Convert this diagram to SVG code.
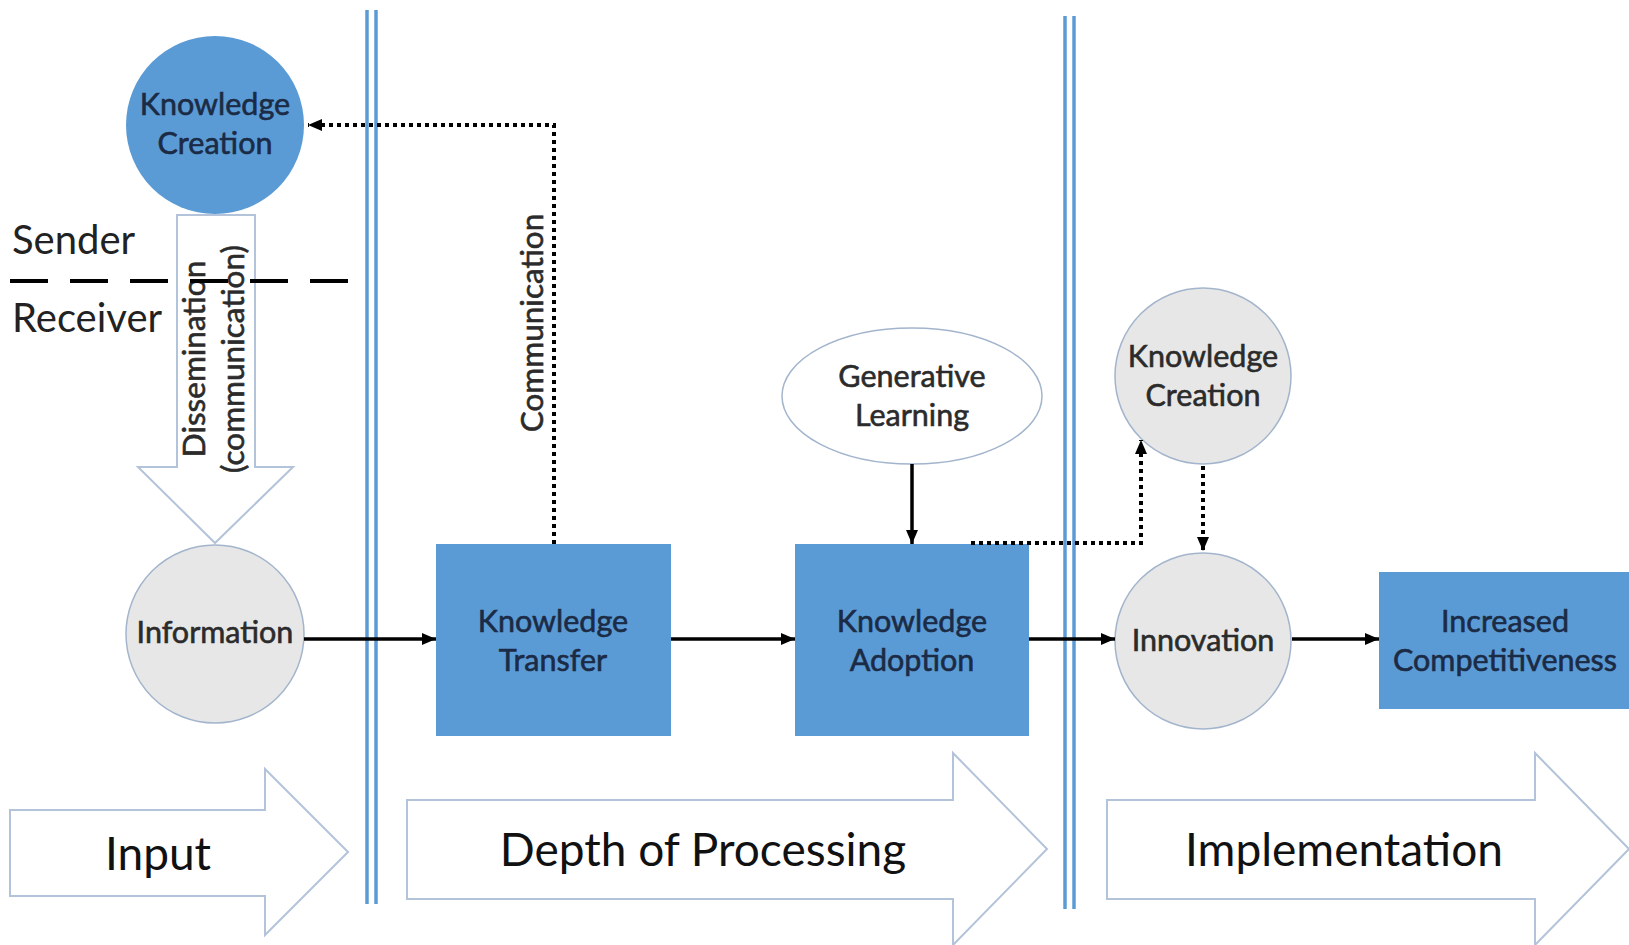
<svg xmlns="http://www.w3.org/2000/svg" width="1629" height="945" viewBox="0 0 1629 945">
<defs>
<style>
.blue{fill:#5b9bd5;stroke:none}
.gray{fill:#e7e7e7;stroke:#a3b5cc;stroke-width:1.5}
.ell{fill:#ffffff;stroke:#a3b5cc;stroke-width:1.5}
.big{fill:#ffffff;stroke:#b3c3d9;stroke-width:2}
.sep{stroke:#5b9bd5;stroke-width:3.5}
.t{font-family:Lato,"Open Sans",sans-serif;font-size:30.5px;text-anchor:middle;stroke-width:0.6px}
.rt{font-size:31.5px}
.tb{fill:#1b2b45;stroke:#1b2b45}
.tg{fill:#2b2b2b;stroke:#2b2b2b}
.lab{font-family:Lato,"Open Sans",sans-serif;font-size:46px;text-anchor:middle;fill:#111}
.sr{font-family:Lato,"Open Sans",sans-serif;font-size:40px;fill:#222}
.solid{stroke:#000;stroke-width:3.5;fill:none}
.dot{stroke:#000;stroke-width:4;fill:none;stroke-dasharray:4 4}
</style>
<marker id="ah" viewBox="0 0 14 12" refX="14" refY="6" markerWidth="14" markerHeight="12" markerUnits="userSpaceOnUse" orient="auto">
<path d="M0,0 L14,6 L0,12 z" fill="#000"/>
</marker>
</defs>
<rect width="1629" height="945" fill="#ffffff"/>

<g id="separators">
<line class="sep" x1="367" y1="10" x2="367" y2="904"/>
<line class="sep" x1="376" y1="10" x2="376" y2="904"/>
<line class="sep" x1="1065" y1="16" x2="1065" y2="909"/>
<line class="sep" x1="1074" y1="16" x2="1074" y2="909"/>
</g>

<g id="stage-input">
<polygon class="big" points="10,810 265,810 265,769 348,852 265,935 265,896 10,896"/>
<text class="lab" x="158" y="870">Input</text>
</g>
<g id="stage-depth">
<polygon class="big" points="407,800 953,800 953,753 1047,849 953,945 953,899 407,899"/>
<text class="lab" x="703" y="866">Depth of Processing</text>
</g>
<g id="stage-implementation">
<polygon class="big" points="1107,800 1535,800 1535,753 1629,849 1535,945 1535,899 1107,899"/>
<text class="lab" x="1344" y="866">Implementation</text>
</g>

<g id="dissemination">
<polygon class="big" points="177,215 255,215 255,467 293,467 215,543 138,467 177,467"/>
<text class="t rt tg" transform="rotate(-90 195 359)" x="195" y="369">Dissemination</text>
<text class="t rt tg" transform="rotate(-90 195 359)" x="195" y="408">(communication)</text>
</g>

<g id="sender-receiver">
<line x1="10" y1="281" x2="348" y2="281" stroke="#000" stroke-width="4" stroke-dasharray="38 22"/>
<text class="sr" x="12" y="254">Sender</text>
<text class="sr" x="12" y="332">Receiver</text>
</g>

<g id="knowledge-creation-1">
<circle class="blue" cx="215" cy="125" r="89"/>
<text class="t tb" x="215" y="115">Knowledge</text>
<text class="t tb" x="215" y="154">Creation</text>
</g>

<g id="information">
<circle class="gray" cx="215" cy="634" r="89"/>
<text class="t tg" x="215" y="643">Information</text>
</g>

<g id="knowledge-transfer">
<rect class="blue" x="436" y="544" width="235" height="192"/>
<text class="t tb" x="553" y="632">Knowledge</text>
<text class="t tb" x="553" y="671">Transfer</text>
</g>

<g id="knowledge-adoption">
<rect class="blue" x="795" y="544" width="234" height="192"/>
<text class="t tb" x="912" y="632">Knowledge</text>
<text class="t tb" x="912" y="671">Adoption</text>
</g>

<g id="generative-learning">
<ellipse class="ell" cx="912" cy="396" rx="130" ry="68"/>
<text class="t tg" x="912" y="387">Generative</text>
<text class="t tg" x="912" y="426">Learning</text>
</g>

<g id="knowledge-creation-2">
<circle class="gray" cx="1203" cy="376" r="88"/>
<text class="t tg" x="1203" y="367">Knowledge</text>
<text class="t tg" x="1203" y="406">Creation</text>
</g>

<g id="innovation">
<circle class="gray" cx="1203" cy="641" r="88"/>
<text class="t tg" x="1203" y="651">Innovation</text>
</g>

<g id="increased-competitiveness">
<rect class="blue" x="1379" y="572" width="250" height="137"/>
<text class="t tb" x="1505" y="632">Increased</text>
<text class="t tb" x="1505" y="671">Competitiveness</text>
</g>

<g id="connectors">
<line class="solid" x1="304" y1="639" x2="436" y2="639" marker-end="url(#ah)"/>
<line class="solid" x1="671" y1="639" x2="795" y2="639" marker-end="url(#ah)"/>
<line class="solid" x1="1029" y1="639" x2="1115" y2="639" marker-end="url(#ah)"/>
<line class="solid" x1="1292" y1="639" x2="1379" y2="639" marker-end="url(#ah)"/>
<line class="solid" x1="912" y1="464" x2="912" y2="544" marker-end="url(#ah)"/>
<polyline class="dot" points="554,544 554,125 308,125" marker-end="url(#ah)"/>
<polyline class="dot" points="971,543 1141,543 1141,440" marker-end="url(#ah)"/>
<line class="dot" x1="1203" y1="466" x2="1203" y2="551" marker-end="url(#ah)"/>
<text class="t rt tg" transform="rotate(-90 533 323)" x="533" y="333">Communication</text>
</g>
</svg>
